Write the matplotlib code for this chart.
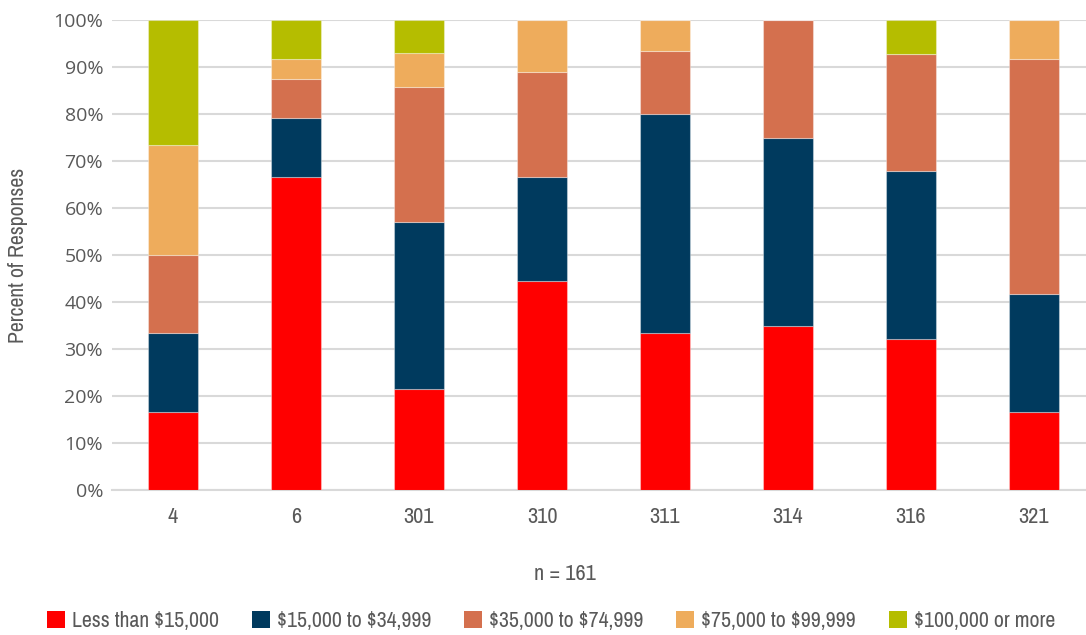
import matplotlib
matplotlib.use("Agg")
import matplotlib.pyplot as plt
import numpy as np

categories = ["4", "6", "301", "310", "311", "314", "316", "321"]
series_names = ["Less than $15,000", "$15,000 to $34,999", "$35,000 to $74,999",
                "$75,000 to $99,999", "$100,000 or more"]
less_15k = [16.7, 66.7, 21.4, 44.4, 33.3, 35.0, 32.1, 16.7]
k15_35 = [16.6, 12.5, 35.7, 22.3, 46.7, 40.0, 35.7, 25.0]
k35_75 = [16.7, 8.3, 28.6, 22.2, 13.3, 25.0, 25.0, 50.0]
k75_100 = [23.3, 4.2, 7.2, 11.1, 6.7, 0.0, 0.0, 8.3]
k100_plus = [26.7, 8.3, 7.1, 0.0, 0.0, 0.0, 7.2, 0.0]
colors = ["#FF0000", "#003A5E", "#D4704E", "#EEAC5C", "#B5BD00"]

plt.rcParams["text.parse_math"] = False
narrow = ["Pragati Narrow", "Archivo Narrow", "DejaVu Sans"]
grey = "#595959"

fig = plt.figure(figsize=(10.86, 6.35), dpi=100)
ax = fig.add_axes([111.5 / 1086, 145 / 635, (1086 - 111.5) / 1086, 470 / 635])

x = np.arange(len(categories))
bottom = np.zeros(len(categories))
for name, vals, c in zip(series_names, [less_15k, k15_35, k35_75, k75_100, k100_plus], colors):
    v = np.array(vals) / 100.0
    ax.bar(x, v, width=0.4, bottom=bottom, color=c, label=name,
           edgecolor=(1, 1, 1, 0.35), linewidth=0.8, zorder=3)
    bottom += v

ax.set_xlim(-0.5, -0.5 + (1086 - 111.5) / 123)
ax.set_ylim(0, 1)
yt = np.arange(0, 1.01, 0.1)
ax.set_yticks(yt)
ax.set_yticklabels([f"{int(round(t*100))}%" for t in yt],
                   fontsize=14, color=grey, family=["Open Sans", "DejaVu Sans"])
ax.set_xticks(x)
ax.set_xticklabels(categories, fontsize=17.5, color=grey, family=narrow)
ax.tick_params(axis="both", length=0)
ax.tick_params(axis="x", pad=12)
ax.tick_params(axis="y", pad=6)
ax.grid(axis="y", color="#D9D9D9", linewidth=1.5, zorder=0)
for s in ["top", "right", "left"]:
    ax.spines[s].set_visible(False)
ax.spines["bottom"].set_color("#D9D9D9")
ax.spines["bottom"].set_linewidth(1.5)

ax.set_ylabel("Percent of Responses", fontsize=17, color=grey, family=narrow, labelpad=18)
fig.text(565 / 1086, 1 - 574 / 635, "n = 161", ha="center", va="center",
         fontsize=17.5, color=grey, family=narrow)

leg = fig.legend(loc="center", bbox_to_anchor=(551 / 1086, 1 - 621 / 635), ncol=5,
                 frameon=False, handlelength=0.75, handleheight=0.75, handletextpad=0.3,
                 columnspacing=1.4, prop={"family": narrow, "size": 17})
for t in leg.get_texts():
    t.set_color(grey)
for h in leg.legend_handles:
    h.set_edgecolor("none")

fig.savefig("out.png", dpi=100)
